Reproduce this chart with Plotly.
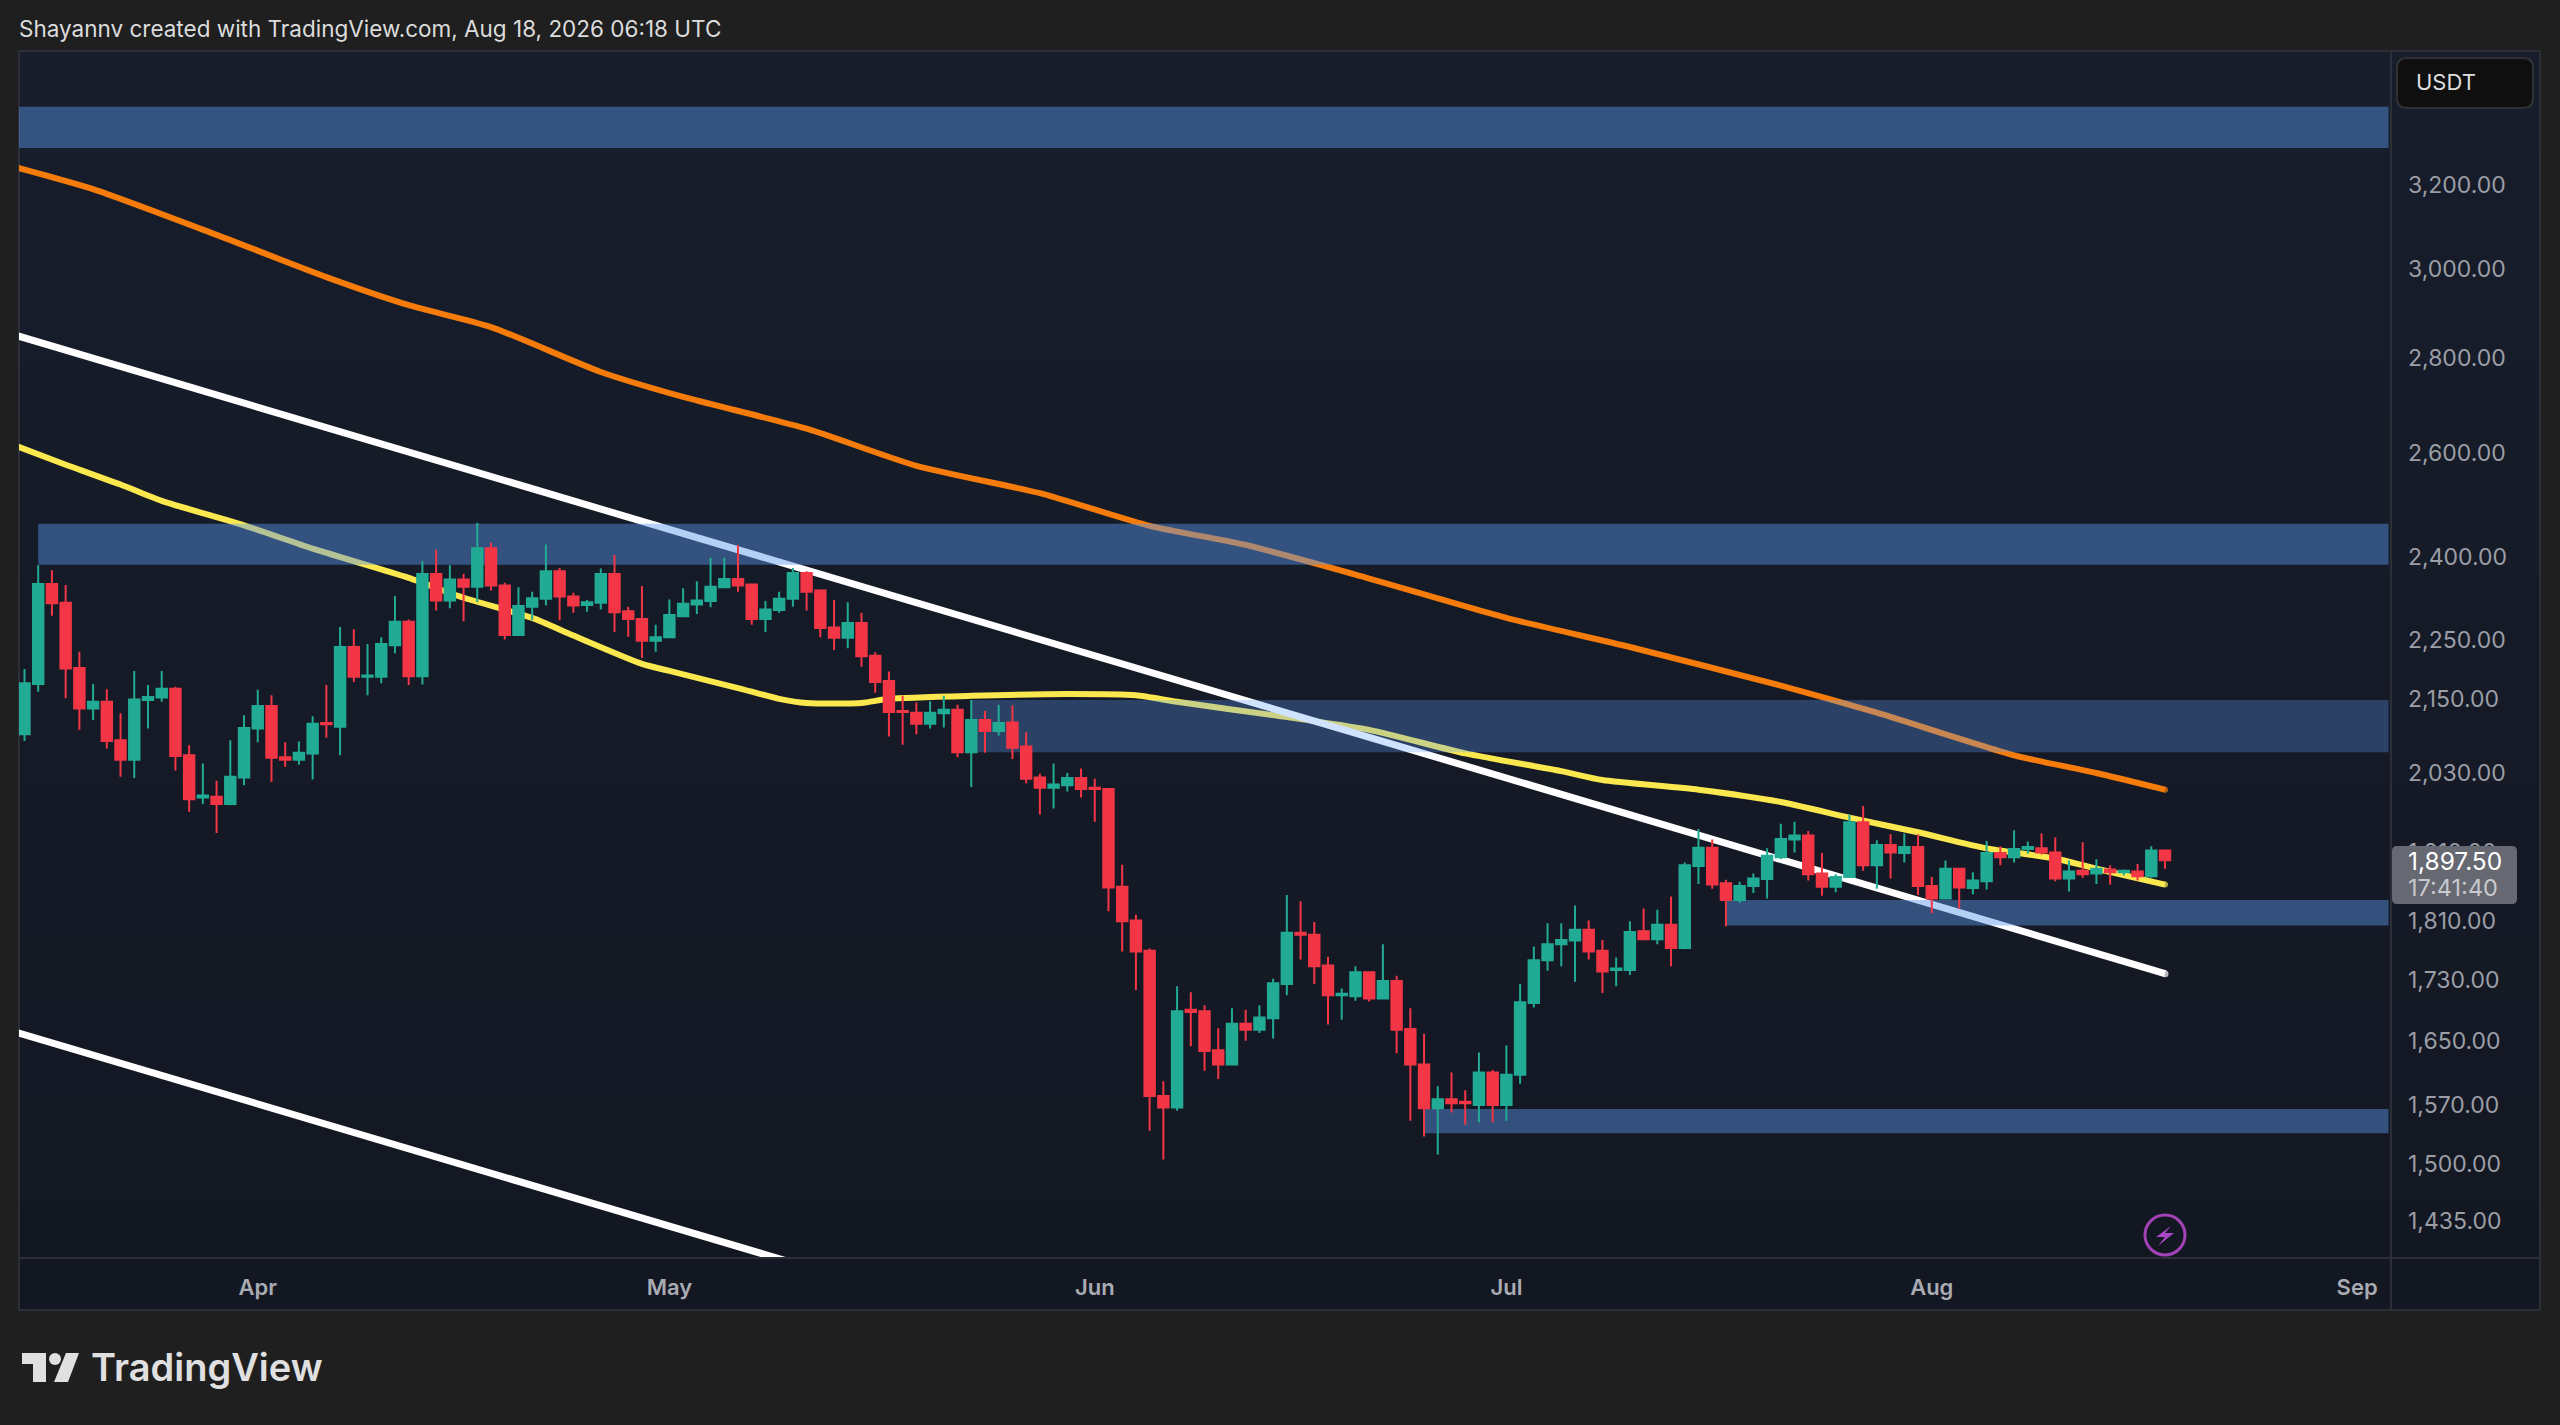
import math
import pandas as pd
import plotly.graph_objects as go

W, H = 2560, 1425

START_DATE = "2026-03-15"
OPEN = [2092,2175,2350,2316,2202,2134,2145,2082,2051,2148,2152,2167,2058,1992,1993,1982,2023,2101,2138,2055,
        2051,2061,2110,2104,2238,2187,2187,2241,2282,2188,2368,2320,2358,2345,2416,2347,2259,2309,2323,2373,
        2327,2312,2316,2368,2301,2287,2249,2255,2292,2313,2319,2344,2359,2349,2287,2303,2323,2370,2338,2272,
        2254,2280,2223,2180,2130,2127,2109,2126,2132,2063,2115,2097,2111,2072,2023,2007,2011,2022,2007,2005,
        1859,1811,1769,1581,1567,1690,1688,1638,1620,1672,1664,1679,1724,1794,1791,1749,1709,1708,1740,1705,
        1728,1665,1620,1566,1577,1574,1570,1610,1570,1607,1699,1756,1778,1783,1798,1769,1743,1743,1796,1785,
        1805,1773,1889,1916,1864,1840,1860,1870,1902,1928,1934,1878,1859,1873,1954,1890,1920,1908,1917,1860,
        1842,1885,1857,1867,1908,1902,1914,1915,1909,1871,1882,1878,1884,1880,1881,1874,1912]
HIGH = [2200,2384,2375,2348,2230,2175,2166,2126,2197,2173,2197,2170,2074,2045,2018,2082,2123,2165,2156,2079,
        2080,2121,2173,2273,2269,2243,2255,2328,2286,2392,2413,2384,2368,2464,2426,2352,2344,2336,2423,2379,
        2334,2321,2378,2403,2309,2346,2277,2322,2342,2355,2398,2398,2422,2350,2319,2336,2379,2373,2340,2321,
        2317,2298,2229,2196,2155,2144,2146,2155,2140,2148,2130,2140,2139,2095,2029,2045,2030,2037,2021,2006,
        1891,1819,1772,1599,1721,1713,1696,1666,1692,1690,1696,1731,1847,1838,1809,1761,1718,1748,1741,1778,
        1735,1692,1659,1593,1610,1588,1635,1613,1644,1724,1775,1807,1807,1832,1811,1784,1760,1810,1828,1826,
        1845,1894,1944,1928,1869,1866,1878,1915,1952,1955,1941,1908,1877,1966,1979,1927,1936,1937,1936,1873,
        1897,1886,1880,1926,1918,1942,1925,1937,1931,1897,1924,1899,1890,1884,1892,1918,1913]
LOW = [2081,2162,2293,2151,2099,2115,2069,2024,2022,2101,2145,2034,1970,1982,1938,1980,2011,2079,2016,2040,
       2043,2020,2086,2058,2178,2156,2176,2227,2173,2174,2302,2306,2283,2317,2338,2251,2258,2285,2311,2285,
       2298,2300,2304,2264,2256,2219,2230,2254,2291,2296,2308,2343,2336,2277,2264,2298,2309,2302,2255,2233,
       2236,2204,2160,2088,2075,2092,2101,2103,2055,2008,2062,2090,2052,2014,1966,1975,2001,1992,1955,1824,
       1768,1716,1539,1505,1563,1643,1612,1602,1619,1650,1660,1653,1709,1757,1724,1671,1677,1702,1701,1704,
       1634,1551,1532,1511,1561,1546,1549,1549,1551,1596,1693,1742,1748,1727,1757,1712,1721,1736,1784,1778,
       1748,1771,1863,1856,1803,1836,1850,1842,1899,1909,1868,1846,1851,1872,1882,1856,1871,1894,1847,1821,
       1841,1828,1848,1855,1890,1894,1907,1906,1867,1852,1872,1863,1862,1875,1868,1872,1885]
CLOSE = [2176,2350,2315,2201,2134,2145,2081,2051,2149,2153,2167,2057,1989,1995,1982,2024,2102,2138,2054,2051,
         2062,2109,2108,2238,2187,2189,2243,2282,2188,2368,2320,2358,2345,2416,2347,2259,2310,2324,2373,2327,
         2311,2317,2368,2299,2287,2249,2255,2294,2314,2320,2345,2359,2347,2287,2304,2323,2370,2336,2271,2254,
         2280,2222,2178,2128,2128,2109,2127,2132,2063,2115,2097,2110,2070,2021,2007,2012,2022,2005,2005,1858,
         1810,1768,1581,1567,1688,1687,1637,1620,1672,1664,1680,1725,1794,1791,1748,1709,1711,1740,1705,1728,
         1664,1620,1566,1577,1572,1572,1610,1570,1607,1700,1756,1778,1784,1798,1768,1741,1745,1795,1785,1805,
         1773,1890,1916,1862,1840,1860,1871,1904,1929,1934,1877,1859,1873,1954,1890,1920,1909,1917,1860,1842,
         1885,1858,1868,1908,1902,1914,1917,1909,1871,1881,1877,1885,1880,1882,1874,1912,1897.5]

YELLOW_DATES = ["2026-03-14","2026-03-18","2026-03-22","2026-03-25","2026-03-31","2026-04-05","2026-04-12",
                "2026-04-16","2026-04-21","2026-04-24","2026-04-29","2026-05-01","2026-05-06","2026-05-09",
                "2026-05-11","2026-05-15","2026-05-17","2026-05-23","2026-05-30","2026-06-04","2026-06-07",
                "2026-06-14","2026-06-21","2026-06-28","2026-07-05","2026-07-08","2026-07-15","2026-07-21",
                "2026-07-26","2026-07-31","2026-08-05","2026-08-10","2026-08-13","2026-08-18"]
YELLOW_VALUES = [2619,2577,2538,2506,2459,2415,2361,2325,2289,2258,2209,2197,2168,2150,2143,2143,2150,2155,
                 2158,2156,2145,2123,2099,2061,2033,2019,2004,1985,1961,1939,1915,1900,1885,1862]
ORANGE_DATES = ["2026-03-14","2026-03-20","2026-03-29","2026-04-06","2026-04-12","2026-04-18","2026-04-26",
                "2026-05-02","2026-05-11","2026-05-19","2026-05-28","2026-06-05","2026-06-12","2026-06-20",
                "2026-07-01","2026-07-10","2026-07-21","2026-07-28","2026-08-07","2026-08-13","2026-08-18"]
ORANGE_VALUES = [3248,3190,3079,2980,2916,2867,2769,2716,2650,2575,2521,2458,2422,2367,2289,2238,2172,2127,
                 2058,2030,2004]

TREND_UPPER_DATES = ["2026-03-14", "2026-08-18"]
TREND_UPPER_VALUES = [2852, 1738]
TREND_LOWER_DATES = ["2026-03-14", "2026-05-14"]
TREND_LOWER_VALUES = [1663, 1372]

BAND_END = "2026-09-03 07:00"
BAND_STARTS = ["2026-03-13", "2026-03-16", "2026-05-23", "2026-07-17", "2026-06-25"]
BAND_TOPS = [3400, 2462, 2148, 1840, 1565]
BAND_BOTTOMS = [3293, 2385, 2063, 1804, 1536]
BAND_FILLS = ["rgba(90,150,234,0.45)", "rgba(90,150,234,0.45)", "rgba(97,160,253,0.30)",
              "rgba(90,150,234,0.45)", "rgba(90,150,234,0.45)"]

PRICE_TICKS = [3200,3000,2800,2600,2400,2250,2150,2030,1910,1810,1730,1650,1570,1500,1435]
MONTH_TICKS = ["2026-04-01","2026-05-01","2026-06-01","2026-07-01","2026-08-01","2026-09-01"]
MONTH_LABELS = ["Apr","May","Jun","Jul","Aug","Sep"]
LAST_PRICE = "1,897.50"
COUNTDOWN = "17:41:40"

X_RANGE = ["2026-03-14 14:24", "2026-09-03 11:17"]
PRICE_RANGE = [1394.6, 3550]

PAGE = "#1f1f1f"
PANE_TOP = (23, 29, 43)
PANE_BOTTOM = (19, 23, 34)
RULE = "#2c2f38"
FONT = "Inter"
L, R, T, B = 19, 2391, 51, 1258
PANE_BOTTOM_Y, PANE_RIGHT_X = 1310, 2540


def fx(x):
    return (x - L) / (R - L)


def fy(y):
    return (B - y) / (B - T)


def pth(points, close=True):
    s = "M " + " L ".join(f"{fx(x):.5f},{fy(y):.5f}" for x, y in points)
    return s + (" Z" if close else "")


def rounded(x0, y0, x1, y1, r):
    p = [f"M {fx(x0 + r):.5f},{fy(y0):.5f}", f"L {fx(x1 - r):.5f},{fy(y0):.5f}",
         f"Q {fx(x1):.5f},{fy(y0):.5f} {fx(x1):.5f},{fy(y0 + r):.5f}",
         f"L {fx(x1):.5f},{fy(y1 - r):.5f}",
         f"Q {fx(x1):.5f},{fy(y1):.5f} {fx(x1 - r):.5f},{fy(y1):.5f}",
         f"L {fx(x0 + r):.5f},{fy(y1):.5f}",
         f"Q {fx(x0):.5f},{fy(y1):.5f} {fx(x0):.5f},{fy(y1 - r):.5f}",
         f"L {fx(x0):.5f},{fy(y0 + r):.5f}",
         f"Q {fx(x0):.5f},{fy(y0):.5f} {fx(x0 + r):.5f},{fy(y0):.5f} Z"]
    return " ".join(p)


def paper_shape(**kw):
    return dict(xref="paper", yref="paper", **kw)


def end_cap(n, size):
    return [0] * (n - 1) + [size]


candle_dates = pd.date_range(START_DATE, periods=len(OPEN), freq="D").strftime("%Y-%m-%d").tolist()

fig = go.Figure()
for dates, vals, color, width, shape in [(ORANGE_DATES, ORANGE_VALUES, "#f57c0b", 6, "spline"),
                                         (YELLOW_DATES, YELLOW_VALUES, "#fbe84f", 6, "spline"),
                                         (TREND_UPPER_DATES, TREND_UPPER_VALUES, "#ffffff", 7, "linear"),
                                         (TREND_LOWER_DATES, TREND_LOWER_VALUES, "#ffffff", 7, "linear")]:
    fig.add_trace(go.Scatter(x=dates, y=vals, mode="lines+markers",
                             line=dict(color=color, width=width, shape=shape,
                                       **({"smoothing": 0.6} if shape == "spline" else {})),
                             marker=dict(color=color, size=end_cap(len(vals), width), line=dict(width=0)),
                             hoverinfo="skip", showlegend=False))

for start, top, bottom, fill in zip(BAND_STARTS, BAND_TOPS, BAND_BOTTOMS, BAND_FILLS):
    fig.add_trace(go.Scatter(x=[start, BAND_END, BAND_END, start, start],
                             y=[bottom, bottom, top, top, bottom],
                             mode="lines", fill="toself", fillcolor=fill,
                             line=dict(width=0), hoverinfo="skip", showlegend=False))

fig.add_trace(go.Candlestick(x=candle_dates, open=OPEN, high=HIGH, low=LOW, close=CLOSE,
                             xaxis="x2", yaxis="y2",
                             increasing=dict(line=dict(color="#22ab94", width=2), fillcolor="#22ab94"),
                             decreasing=dict(line=dict(color="#f23645", width=2), fillcolor="#f23645"),
                             whiskerwidth=0, hoverinfo="skip", showlegend=False))

log_range = [math.log10(PRICE_RANGE[0]), math.log10(PRICE_RANGE[1])]

GRADIENT_STEPS = 24
shapes = []
for k in range(GRADIENT_STEPS):
    t = k / (GRADIENT_STEPS - 1)
    rgb = tuple(round(a + (b - a) * t) for a, b in zip(PANE_TOP, PANE_BOTTOM))
    top_y = T + (PANE_BOTTOM_Y - T) * k / GRADIENT_STEPS
    shapes.append(paper_shape(type="rect", x0=fx(L), x1=fx(PANE_RIGHT_X), y0=fy(PANE_BOTTOM_Y), y1=fy(top_y),
                              fillcolor=f"rgb{rgb}", line=dict(width=0), layer="below"))

shapes += [
    paper_shape(type="rect", x0=fx(L), x1=fx(PANE_RIGHT_X), y0=fy(PANE_BOTTOM_Y), y1=fy(T),
                line=dict(color=RULE, width=2), layer="below"),
    paper_shape(type="line", x0=fx(R), x1=fx(R), y0=fy(T), y1=fy(PANE_BOTTOM_Y), line=dict(color=RULE, width=2), layer="above"),
    paper_shape(type="line", x0=fx(L), x1=fx(PANE_RIGHT_X), y0=fy(B), y1=fy(B), line=dict(color=RULE, width=2), layer="above"),
    # last-price tag
    paper_shape(type="path", path=rounded(2392, 846, 2517, 904, 5), fillcolor="#666872", line=dict(width=0), layer="above"),
    # currency box
    paper_shape(type="path", path=rounded(2397, 58, 2533, 108, 10), fillcolor="#0f0f0f",
                line=dict(color="#303135", width=2), layer="above"),
    # flash icon
    paper_shape(type="circle", x0=fx(2145), x1=fx(2185), y0=fy(1255), y1=fy(1215), fillcolor="#131722",
                line=dict(color="#a243b5", width=3), layer="above"),
    paper_shape(type="path", path=pth([(2171, 1226), (2156, 1237), (2165, 1237), (2158, 1246), (2174, 1233), (2165, 1233)]),
                fillcolor="#a947c4", line=dict(width=0), layer="above"),
    # logo
    paper_shape(type="path", path=pth([(22, 1353), (46, 1353), (46, 1382), (33, 1382), (33, 1364), (22, 1364)]),
                fillcolor="#e0e0e0", line=dict(width=0), layer="above"),
    paper_shape(type="circle", x0=fx(49), x1=fx(61), y0=fy(1365), y1=fy(1353), fillcolor="#e0e0e0",
                line=dict(width=0), layer="above"),
    paper_shape(type="path", path=pth([(66, 1353), (79, 1353), (68, 1382), (54, 1382)]),
                fillcolor="#e0e0e0", line=dict(width=0), layer="above"),
]


def note(text, x, y, size, color, anchor="left", weight=400):
    return dict(text=text, xref="paper", yref="paper", x=fx(x), y=fy(y), xanchor=anchor, yanchor="middle",
                showarrow=False, font=dict(family=FONT, size=size, color=color, weight=weight))


annotations = [
    note("Shayannv created with TradingView.com, Aug 18, 2026 06:18 UTC", 17, 29, 22.5, "#dcdcdc"),
    note("USDT", 2414, 82, 22, "#dedede"),
    note(LAST_PRICE, 2406, 861, 24.5, "#ffffff"),
    note(COUNTDOWN, 2406, 887, 23.5, "#c8c9ce"),
    note("TradingView", 89, 1367, 38, "#e0e0e0", weight=600),
]

fig.update_layout(
    width=W, height=H, autosize=False,
    paper_bgcolor=PAGE, plot_bgcolor="rgba(0,0,0,0)",
    margin=dict(l=L, r=W - R, t=T, b=H - B, pad=0),
    showlegend=False, hovermode=False, dragmode=False,
    boxgap=0.24, boxgroupgap=0,
    xaxis=dict(type="date", range=X_RANGE, showgrid=False, zeroline=False, showline=False,
               tickmode="array", tickvals=MONTH_TICKS, ticktext=MONTH_LABELS, ticks="", ticklabelstandoff=14,
               tickangle=0, tickfont=dict(family=FONT, size=22, color="#a9abb3", weight=600),
               rangeslider=dict(visible=False)),
    yaxis=dict(type="log", range=log_range, side="right", showgrid=False, zeroline=False, showline=False,
               tickmode="array", tickvals=PRICE_TICKS, ticktext=[f"{v:,.2f}" for v in PRICE_TICKS], ticks="",
               ticklabelstandoff=16, tickfont=dict(family=FONT, size=23, color="#9b9ea6")),
    xaxis2=dict(type="date", overlaying="x", matches="x", range=X_RANGE, visible=False,
                rangeslider=dict(visible=False)),
    yaxis2=dict(type="log", overlaying="y", matches="y", range=log_range, visible=False, side="right"),
    shapes=shapes, annotations=annotations,
)

fig.write_html("out.html", config=dict(displayModeBar=False),
               post_script="document.body.style.margin='0';document.body.style.background='#1f1f1f';document.documentElement.style.overflow='hidden';")
